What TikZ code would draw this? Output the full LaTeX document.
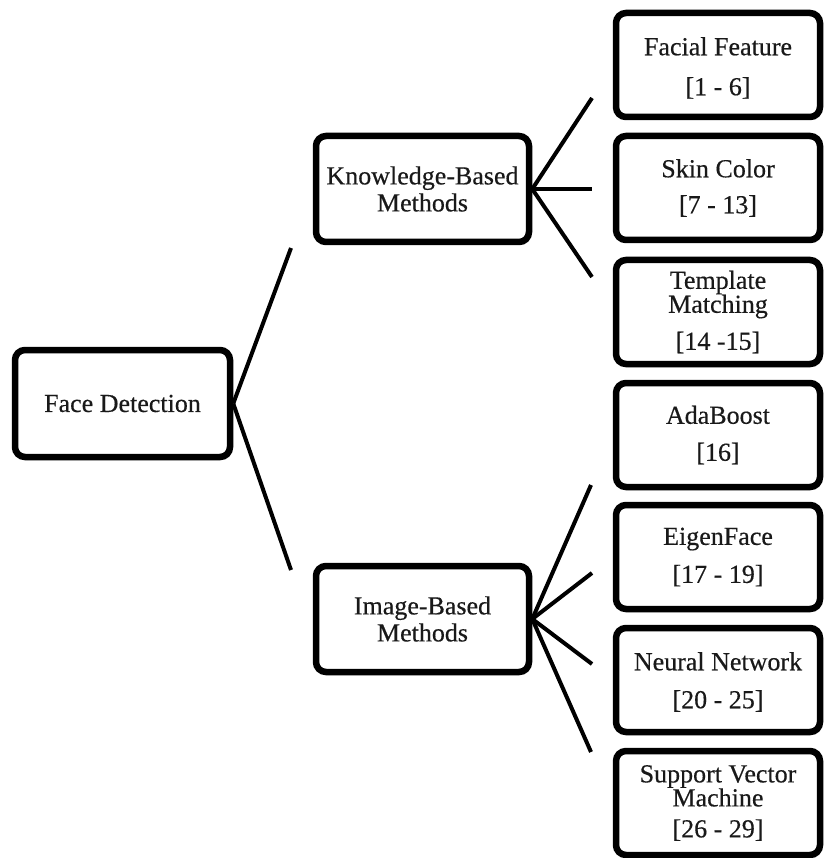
\documentclass[tikz,border=0pt]{standalone}
\usepackage{fontspec}
\setmainfont{Liberation Serif}[FakeBold=0.4]
\usetikzlibrary{shadows}
\begin{document}
\begin{tikzpicture}[x=1pt,y=-1pt,
  box/.style={draw=black, line width=6.5pt, rounded corners=10pt, fill=white,
    inner sep=0pt, align=center, text=black!90,
    font=\fontsize{26}{24}\selectfont,
    drop shadow={shadow xshift=2pt, shadow yshift=-3pt, opacity=0.25, fill=black!70}},
  leafbox/.style={box, minimum width=204pt, minimum height=104pt},
  midbox/.style={box, minimum width=213pt, minimum height=106pt},
  link/.style={line width=4pt, draw=black}]
\useasboundingbox (0,0) rectangle (825,858);

% nodes
\node[box, minimum width=215pt, minimum height=107pt] (face) at (122.5,403.5) {Face Detection};
\node[midbox] (kb) at (422.5,189) {Knowledge-Based\\[3pt]Methods};
\node[midbox] (ib) at (422.5,619) {Image-Based\\[3pt]Methods};

\node[leafbox] (ff)  at (718,65)  {\rule{0pt}{24pt}Facial Feature\\[16pt]{[1 - 6]}};
\node[leafbox] (sc)  at (718,188) {Skin Color\\[12pt]{[7 - 13]}};
\node[leafbox] (tm)  at (718,312) {Template\\[0pt]Matching\\[13pt]{[14 -15]}};
\node[leafbox] (ab)  at (718,435) {AdaBoost\\[13pt]{[16]}};
\node[leafbox] (ef)  at (718,557) {EigenFace\\[14pt]{[17 - 19]}};
\node[leafbox] (nn)  at (718,680) {\rule{0pt}{22pt}Neural Network\\[14pt]{[20 - 25]}};
\node[leafbox] (svm) at (718,803) {Support Vector\\[0pt]Machine\\[7pt]{[26 - 29]}};

% free ends of connectors
\coordinate (f1) at (291,248);
\coordinate (f2) at (291,570);
\coordinate (k1) at (592,98);
\coordinate (k2) at (592,189);
\coordinate (k3) at (592,277);
\coordinate (i1) at (591,485);
\coordinate (i2) at (592,573);
\coordinate (i3) at (592,664);
\coordinate (i4) at (591,752);

% connectors
\draw[link] (face.east) -- (f1);
\draw[link] (face.east) -- (f2);
\draw[link] (kb.east) -- (k1);
\draw[link] (kb.east) -- (k2);
\draw[link] (kb.east) -- (k3);
\draw[link] (ib.east) -- (i1);
\draw[link] (ib.east) -- (i2);
\draw[link] (ib.east) -- (i3);
\draw[link] (ib.east) -- (i4);
\end{tikzpicture}
\end{document}
